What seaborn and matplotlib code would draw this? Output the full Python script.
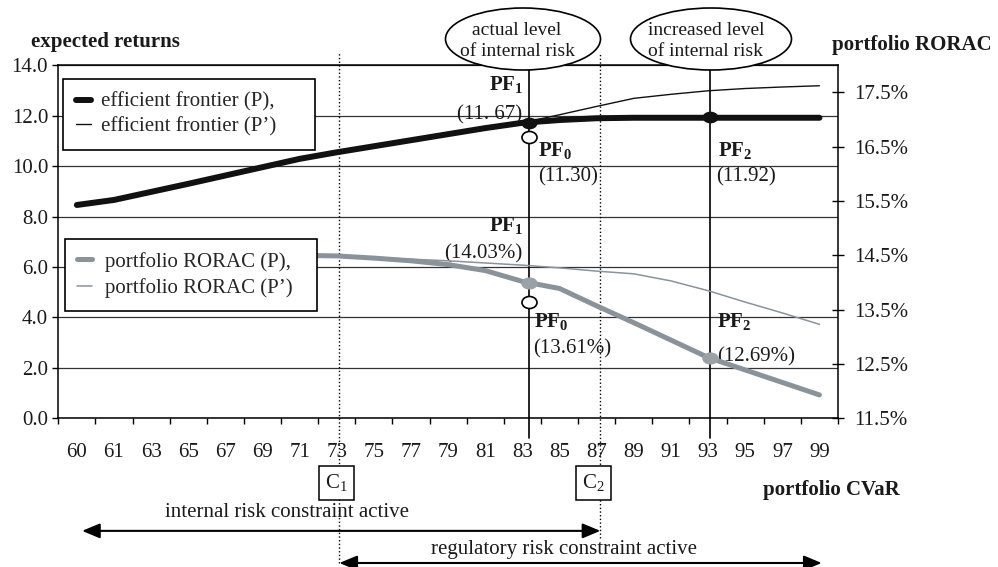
import numpy as np
import pandas as pd
import matplotlib
matplotlib.use('Agg')
import matplotlib.pyplot as plt
import matplotlib.transforms as mtransforms
from matplotlib.patches import Ellipse
from matplotlib.lines import Line2D
from matplotlib.markers import MarkerStyle
from matplotlib.ticker import FormatStrFormatter
import seaborn as sns

# data (x = portfolio CVaR categories)
cvar_labels = ['60', '61', '63', '65', '67', '69', '71', '73', '75', '77', '79',
               '81', '83', '85', '87', '89', '91', '93', '95', '97', '99']
frontier_p = [8.46, 8.66, 8.98, 9.30, 9.63, 9.96, 10.29, 10.55, 10.79, 11.03, 11.27,
              11.51, 11.72, 11.83, 11.90, 11.92, 11.92, 11.92, 11.92, 11.92, 11.92]
frontier_p2 = [8.46, 8.66, 8.98, 9.30, 9.63, 9.96, 10.29, 10.55, 10.79, 11.03, 11.27,
               11.51, 11.72, 12.04, 12.37, 12.69, 12.85, 12.99, 13.08, 13.14, 13.19]
rorac_p = [14.55, 14.55, 14.54, 14.53, 14.52, 14.51, 14.50, 14.49, 14.45, 14.40, 14.33,
           14.22, 14.02, 13.89, 13.57, 13.26, 12.94, 12.62, 12.39, 12.16, 11.93]
rorac_p2 = [14.55, 14.55, 14.54, 14.53, 14.52, 14.51, 14.50, 14.49, 14.46, 14.43, 14.40,
            14.36, 14.32, 14.27, 14.21, 14.16, 14.03, 13.85, 13.64, 13.44, 13.23]

# PF1, PF0, PF2 markers
pf_x = [12.18, 12.18, 17.05]
pf_frontier = [11.73, 11.17, 11.94]
pf_rorac = [13.99, 13.65, 12.61]
pf_frontier_labels = ['(11. 67)', '(11.30)', '(11.92)']
pf_rorac_labels = ['(14.03%)', '(13.61%)', '(12.69%)']
c1_x, c2_x = 7.07, 14.10

df = pd.DataFrame({'x': np.arange(len(cvar_labels)),
                   'frontier_p': frontier_p, 'frontier_p2': frontier_p2,
                   'rorac_p': rorac_p, 'rorac_p2': rorac_p2})

sns.set_theme(style='white')
plt.rcParams['font.family'] = ['Liberation Serif', 'DejaVu Serif']
plt.rcParams['mathtext.fontset'] = 'custom'
plt.rcParams['mathtext.rm'] = 'Liberation Serif'
plt.rcParams['mathtext.bf'] = 'Liberation Serif:bold'
plt.rcParams['mathtext.it'] = 'Liberation Serif:italic'

FS = 15
TXT = '#1a1a1a'
GRAY = '#8a9399'

fig = plt.figure(figsize=(9.98, 5.67), dpi=100)
ax = fig.add_axes([0.0584, 0.2623, 0.7813, 0.6225])
ax2 = ax.twinx()

# left axis: efficient frontiers
sns.lineplot(data=df, x='x', y='frontier_p', ax=ax, color='#111111', lw=4.3,
             solid_capstyle='round', zorder=4)
sns.lineplot(data=df, x='x', y='frontier_p2', ax=ax, color='#111111', lw=1.0, zorder=3)
ax.set_xlim(-0.5, 20.5)
ax.set_ylim(0, 14)
ax.set_yticks(np.arange(0, 15, 2))
ax.yaxis.set_major_formatter(FormatStrFormatter('%.1f'))
ax.set_xticks(range(len(cvar_labels)))
ax.set_xticklabels(cvar_labels)
ax.set_xticks(np.arange(-0.5, 21, 1), minor=True)
ax.tick_params(axis='x', which='major', length=0, pad=18, labelsize=FS, labelcolor=TXT)
ax.tick_params(axis='x', which='minor', length=4.3, width=1, direction='out', color='black',
               bottom=True)
ax.tick_params(axis='y', length=4.3, width=1, direction='out', pad=3, labelsize=FS,
               labelcolor=TXT, color='black', left=True)
ax.set_xlabel('')
ax.set_ylabel('')
ax.grid(axis='y', color='#333333', lw=0.9)
ax.set_axisbelow(True)
for s in ax.spines.values():
    s.set_color('black')
    s.set_linewidth(1.1)

# right axis: RORAC
sns.lineplot(data=df, x='x', y='rorac_p', ax=ax2, color=GRAY, lw=3.6,
             solid_capstyle='round', zorder=4)
sns.lineplot(data=df, x='x', y='rorac_p2', ax=ax2, color=GRAY, lw=1.1, zorder=3)
ax2.set_ylim(11.5, 18.0)
ax2.set_yticks(np.arange(11.5, 18.0, 1.0))
ax2.yaxis.set_major_formatter(FormatStrFormatter('%.1f%%'))
ax2.tick_params(axis='y', length=8.6, width=1, direction='inout', pad=7, labelsize=FS,
                labelcolor=TXT, color='black', right=True)
ax2.set_ylabel('')
ax2.grid(False)
for s in ax2.spines.values():
    s.set_visible(False)

# vertical reference lines
ax.axvline(pf_x[0], ymin=-0.056, ymax=0.99, color='black', lw=1.2, clip_on=False, zorder=2)
ax.axvline(pf_x[2], ymin=-0.056, ymax=0.99, color='black', lw=1.2, clip_on=False, zorder=2)
ax.axvline(c1_x, ymin=-0.41, ymax=1.035, color='black', lw=1.0, ls=':', clip_on=False, zorder=2)
ax.axvline(c2_x, ymin=-0.339, ymax=1.035, color='black', lw=1.0, ls=':', clip_on=False, zorder=2)

# markers
ell = MarkerStyle('o', transform=mtransforms.Affine2D().scale(1.4, 1.0))
ell_open = MarkerStyle('o', transform=mtransforms.Affine2D().scale(1.25, 1.0))
ax.scatter([pf_x[0], pf_x[2]], [pf_frontier[0], pf_frontier[2]], marker=ell, s=55,
           color='#111111', zorder=6)
ax.scatter([pf_x[1]], [pf_frontier[1]], marker=ell_open,
           s=75, facecolor='white', edgecolor='black', lw=1.2, zorder=6)
ax2.scatter([pf_x[0], pf_x[2]], [pf_rorac[0], pf_rorac[2]], marker=ell, s=60,
            color='#9aa2a8', zorder=6)
ax2.scatter([pf_x[1]], [pf_rorac[1]], marker=ell_open,
            s=75, facecolor='white', edgecolor='black', lw=1.2, zorder=6)

# point labels
pf1 = r'$\mathbf{PF_1}$'
pf0 = r'$\mathbf{PF_0}$'
pf2 = r'$\mathbf{PF_2}$'
kw = dict(fontsize=FS, color=TXT, va='center', zorder=7)
ax.text(12.02, 13.22, pf1, ha='right', **kw)
ax.text(11.99, 12.03, pf_frontier_labels[0], ha='right', **kw)
ax.text(12.42, 10.64, pf0, ha='left', **kw)
ax.text(12.42, 9.57, pf_frontier_labels[1], ha='left', **kw)
ax.text(17.26, 10.64, pf2, ha='left', **kw)
ax.text(17.21, 9.57, pf_frontier_labels[2], ha='left', **kw)
ax.text(12.02, 7.63, pf1, ha='right', **kw)
ax.text(11.99, 6.52, pf_rorac_labels[0], ha='right', **kw)
ax.text(12.30, 3.82, pf0, ha='left', **kw)
ax.text(12.28, 2.75, pf_rorac_labels[1], ha='left', **kw)
ax.text(17.24, 3.82, pf2, ha='left', **kw)
ax.text(17.24, 2.43, pf_rorac_labels[2], ha='left', **kw)

# legends
h1 = [Line2D([], [], color='#111111', lw=4.3), Line2D([], [], color='#111111', lw=1.0)]
leg1 = ax.legend(h1, ['efficient frontier (P),', 'efficient frontier (P\u2019)'],
                 loc='upper left', bbox_to_anchor=(0.0064, 0.0, 0.3228, 0.960), mode='expand',
                 borderaxespad=0, fontsize=FS, frameon=True, fancybox=False, shadow=False,
                 framealpha=1, handlelength=0.7, handletextpad=0.5, borderpad=0.62,
                 labelspacing=0.25)
leg1.get_frame().set_edgecolor('black')
leg1.get_frame().set_linewidth(1.2)
leg1.set_zorder(8)
h2 = [Line2D([], [], color=GRAY, lw=3.6), Line2D([], [], color=GRAY, lw=1.1)]
leg2 = ax2.legend(h2, ['portfolio RORAC (P),', 'portfolio RORAC (P\u2019)'],
                  loc='upper left', bbox_to_anchor=(0.0086, 0.0, 0.3228, 0.507), mode='expand',
                  borderaxespad=0, fontsize=FS, frameon=True, fancybox=False, shadow=False,
                  framealpha=1, handlelength=0.7, handletextpad=0.6, borderpad=0.6,
                  labelspacing=0.32)
leg2.get_frame().set_edgecolor('black')
leg2.get_frame().set_linewidth(1.2)
leg2.set_zorder(8)

# axis titles
fig.text(30.7 / 998, 1 - 42 / 567, 'expected returns', fontsize=FS, fontweight='bold',
         color=TXT, ha='left', va='center')
fig.text(832 / 998, 1 - 45 / 567, 'portfolio RORAC', fontsize=FS, fontweight='bold',
         color=TXT, ha='left', va='center')
fig.text(900 / 998, 1 - 490 / 567, 'portfolio CVaR', fontsize=FS, fontweight='bold',
         color=TXT, ha='right', va='center')

# ellipses at the top
for cx, w, tx, label in [(523, 155, 517, 'actual level\nof internal risk'),
                         (711, 161, 706, 'increased level\nof internal risk')]:
    fig.add_artist(Ellipse((cx / 998, 1 - 39 / 567), w / 998, 62 / 567,
                           transform=fig.transFigure, facecolor='white',
                           edgecolor='black', lw=1.2, zorder=5))
    fig.text(tx / 998, 1 - 41 / 567, label, fontsize=14, color=TXT, ha='center',
             va='center', linespacing=1.32, zorder=6)

# constraint annotations below the axis
blend = mtransforms.blended_transform_factory(ax.transData, ax.transAxes)
ax.text(c1_x - 0.08, -0.183, r'$\mathrm{C_1}$', transform=blend, fontsize=FS, color=TXT,
        ha='center', va='center',
        bbox=dict(boxstyle='square,pad=0.3', facecolor='white', edgecolor='black', lw=1.1))
ax.text(c2_x - 0.19, -0.183, r'$\mathrm{C_2}$', transform=blend, fontsize=FS, color=TXT,
        ha='center', va='center',
        bbox=dict(boxstyle='square,pad=0.3', facecolor='white', edgecolor='black', lw=1.1))
ax.text(5.66, -0.268, 'internal risk constraint active', transform=blend, fontsize=FS,
        color=TXT, ha='center', va='center')
ax.text(13.12, -0.373, 'regulatory risk constraint active', transform=blend, fontsize=FS,
        color=TXT, ha='center', va='center')
arrow = dict(arrowstyle='<|-|>,head_length=0.6,head_width=0.25', color='black', lw=1.5,
             mutation_scale=18, shrinkA=0, shrinkB=0)
ax.annotate('', xy=(c2_x, -0.319), xytext=(0.14, -0.319), xycoords=blend,
            textcoords=blend, arrowprops=arrow, annotation_clip=False)
ax.annotate('', xy=(20.06, -0.41), xytext=(c1_x, -0.41), xycoords=blend,
            textcoords=blend, arrowprops=arrow, annotation_clip=False)

fig.savefig('out.png', dpi=100)
